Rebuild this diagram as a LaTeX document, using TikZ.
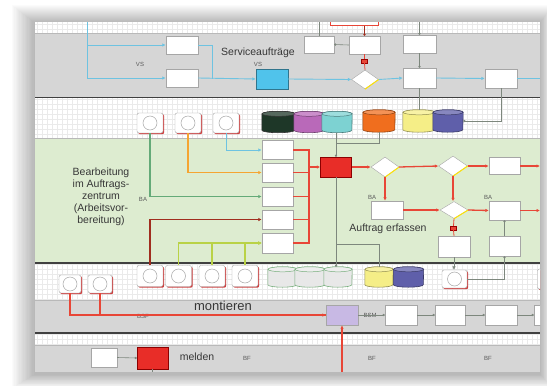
\documentclass[tikz,border=0pt]{standalone}
\usepackage{fontspec}
\setmainfont{Liberation Sans}
\usetikzlibrary{arrows.meta,shapes.geometric,shadows}
\definecolor{bandgray}{RGB}{214,214,214}
\definecolor{bandgreen}{RGB}{221,236,208}
\definecolor{gridc}{RGB}{234,234,234}
\definecolor{lineblue}{RGB}{110,195,225}
\definecolor{boxblue}{RGB}{80,195,235}
\definecolor{redl}{RGB}{232,70,55}
\definecolor{redbox}{RGB}{232,45,40}
\definecolor{lineor}{RGB}{245,165,50}
\definecolor{linegr}{RGB}{100,170,120}
\definecolor{linedr}{RGB}{160,45,30}
\definecolor{lineyg}{RGB}{185,210,70}
\definecolor{linegy}{RGB}{125,135,125}
\definecolor{txt}{RGB}{55,55,55}
\definecolor{cdkgreen}{RGB}{30,55,40}
\definecolor{cpurple}{RGB}{185,105,185}
\definecolor{cteal}{RGB}{125,210,210}
\definecolor{corange}{RGB}{240,110,30}
\definecolor{cyellow}{RGB}{245,238,135}
\definecolor{cslate}{RGB}{95,95,170}
\definecolor{clgray}{RGB}{232,232,232}
\definecolor{cgedge}{RGB}{120,175,125}
\definecolor{lavender}{RGB}{200,185,228}
\newcommand\mycyl[7]{%
  \node[inner sep=0pt, minimum width=#4pt, minimum height=#5pt] (#1) at (#2,#3) {};
  \path[fill=#6, draw=#7, line width=0.6pt]
    ([yshift=-2.5pt]#1.north west) -- ([yshift=2.5pt]#1.south west)
    arc[start angle=180, end angle=360, x radius=#4pt/2, y radius=2.5pt]
    -- ([yshift=-2.5pt]#1.north east)
    arc[start angle=0, end angle=180, x radius=#4pt/2, y radius=2.5pt] -- cycle;
  \path[fill=#6!75!white, draw=#7, line width=0.5pt]
    ([yshift=-2.5pt]#1.north) ellipse[x radius=#4pt/2, y radius=2.5pt];
}
\begin{document}
\begin{tikzpicture}[x=1pt,y=-1pt,
  pbox/.style={rectangle, draw=gray!70, fill=white, inner sep=0pt,
    minimum width=31pt, minimum height=19pt,
    drop shadow={opacity=0.25, shadow xshift=0.8pt, shadow yshift=-0.8pt}},
  dia/.style={diamond, aspect=1.4, draw=gray!70, fill=white,
    minimum width=28pt, minimum height=20pt, inner sep=0pt},
  csq/.style={rectangle, rounded corners=2pt, draw=gray!70, fill=white,
    minimum width=25pt, minimum height=20pt, inner sep=0pt,
    drop shadow={fill=red!75!black, opacity=0.75, shadow xshift=1.2pt, shadow yshift=-1.2pt},
    path picture={\draw[gray!70, line width=0.5pt] (path picture bounding box.center) circle[radius=7pt];}},
  bl/.style={draw=lineblue, line width=0.9pt},
  rd/.style={draw=redl, line width=1.3pt},
  gl/.style={draw=linegy, line width=0.6pt},
  arr/.style={-{Latex[length=3.5pt,width=3.5pt]}},
  dot/.style={-{Circle[length=2.2pt]}},
  big/.style={text=txt, font=\fontsize{10.5}{12.5}\selectfont, inner sep=0pt},
  lbl/.style={text=gray!70!black, font=\fontsize{6}{7}\selectfont, inner sep=0pt},
  tag/.style={fill=redl, draw=red!60!black, minimum width=6pt, minimum height=4pt, inner sep=0pt}]
\useasboundingbox (0,0) rectangle (547,386);
\fill[white] (0,0) rectangle (547,386);
% soft shadow around the panel
\foreach \i in {1,...,18}
  \fill[black, opacity=0.014] ({35-\i*1.3},{22-\i*1.0+1}) rectangle ({540+\i*0.7},{372+\i*0.8+2});
\begin{scope}
\clip (35,22) rectangle (540,372);
\fill[white] (35,22) rectangle (540,372);
\foreach \xx in {37,42,...,540} \draw[gridc, line width=0.3pt] (\xx,22) -- (\xx,372);
\foreach \yy in {24,29,...,372} \draw[gridc, line width=0.3pt] (35,\yy) -- (540,\yy);
% bands
\fill[bandgray] (35,33) rectangle (540,97);
\fill[bandgreen] (35,138) rectangle (540,263);
\fill[bandgray] (35,300) rectangle (540,333);
\fill[bandgray] (35,345) rectangle (540,372);
\draw[gray!55, line width=0.5pt] (35,33) -- (540,33);
\draw[gray!55, line width=0.5pt] (35,138) -- (540,138);
\draw[gray!55, line width=0.5pt] (35,300) -- (540,300);
\draw[gray!55, line width=0.5pt] (35,345) -- (540,345);
\draw[black!75, line width=1.8pt] (35,97.5) -- (540,97.5);
\draw[black!75, line width=1.8pt] (35,263) -- (540,263);
\draw[black!75, line width=1.8pt] (35,333) -- (540,333);

% ---------- band: Serviceauftraege ----------
\node[big] (tsa) at (258,53) {Serviceaufträge};
\node[lbl] (vs1) at (140,64) {VS};
\node[lbl] (vs2) at (258,64) {VS};
\node[pbox, minimum width=32pt, minimum height=18pt] (b1) at (182,45) {};
\node[pbox, minimum width=32pt, minimum height=18pt] (b2) at (182,78) {};
\node[pbox, fill=boxblue, draw=boxblue!60!black, minimum width=32pt, minimum height=20pt] (bb) at (272,79) {};
\node[dia, minimum width=27pt, minimum height=19pt] (d0) at (365,79.5) {};
\draw[yellow!85!orange, line width=1pt] (d0.south) -- (d0.east);
\node[pbox, minimum width=31pt, minimum height=18pt] (b3) at (364.5,45) {};
\node[pbox, minimum width=30pt, minimum height=17pt] (b4) at (319,44.5) {};
\node[pbox, minimum width=33pt, minimum height=18pt] (b5) at (419.5,44) {};
\node[pbox, minimum width=33pt, minimum height=20pt] (b6) at (419.5,78) {};
\node[pbox, minimum width=32pt, minimum height=19pt] (b7) at (501,78.5) {};
\node[draw=redl, fill=white, line width=1pt, minimum width=48pt, minimum height=7pt, inner sep=0pt] (rtop) at (354,21.5) {};
\node[tag] (tg1) at (364.5,61) {};
\coordinate (vtop) at (87,22);
\coordinate (j1) at (212,79);
\coordinate (gtop) at (419.5,22);
\coordinate (gtop2) at (319,22);
\coordinate (redge1) at (540,78.5);
\draw[bl,arr] (vtop) |- (b1.west);
\draw[bl,arr] (vtop) |- (b2.west);
\draw[bl] (b1.east) -| (j1);
\draw[bl,arr] (b2.east) -- (bb.west);
\draw[bl,arr] (bb.east) -- (d0.west);
\draw[bl,arr] (d0.east) -- (b6.west);
\draw[bl,arr] (b6.east) -- (b7.west);
\draw[bl] (b7.east) -- (redge1);
\draw[gl,dot] (gtop) -- (b5.north);
\draw[gl,dot] (b5.south) -- (b6.north);
\draw[gl] (gtop2) -- (b4.north);
\draw[gl,dot] (b3.west) -- (b4.east);
\draw[linedr, line width=0.8pt, dot] (rtop.south -| b3.north) -- (b3.north);
\draw[redl, line width=0.8pt] (b3.south) -- (tg1.north);
\draw[redl, line width=0.8pt] (tg1.south) -- (d0.north);

% ---------- band 3: stores ----------
\node[csq, minimum width=26pt] (s1) at (150,123) {};
\node[csq, minimum width=26pt] (s2) at (188,123) {};
\node[csq, minimum width=26pt] (s3) at (226,123) {};
\mycyl{c1}{278.5}{122}{33}{21}{cdkgreen}{black!80}
\mycyl{c2}{309}{122}{30}{21}{cpurple}{cpurple!60!black}
\mycyl{c3}{337}{122}{30}{21}{cteal}{cteal!60!black}
\mycyl{c4}{379}{121}{32}{22}{corange}{corange!60!black}
\mycyl{c5}{419}{121}{32}{22}{cyellow}{cyellow!60!black}
\mycyl{c6}{448}{121}{30}{22}{cslate}{cslate!60!black}
\draw[gl] (b6.south) -- (b6.south |- c5.north);
\draw[gl,dot] (b7.south) |- (c6.east);

% ---------- band 4: Bearbeitung ----------
\node[big, align=center, font=\fontsize{10.5}{12}\selectfont] (tbear) at (101,197)
  {Bearbeitung\\im Auftrags-\\zentrum\\(Arbeitsvor-\\bereitung)};
\node[lbl] (ba1) at (143,199) {BA};
\node[pbox] (p1) at (277.5,150) {};
\node[pbox] (p2) at (277.5,172.5) {};
\node[pbox] (p3) at (277.5,196.5) {};
\node[pbox] (p4) at (277.5,219.5) {};
\node[pbox, minimum height=20pt] (p5) at (277.5,243) {};
\node[pbox, fill=redbox, draw=red!55!black, minimum width=31pt, minimum height=20pt] (rb) at (336,167) {};
\node[dia] (d1) at (385,167) {};
\draw[yellow!85!orange, line width=1pt] (d1.south) -- (d1.east);
\node[dia, minimum width=29pt] (d2) at (453,166) {};
\draw[yellow!85!orange, line width=1pt] (d2.south) -- (d2.east);
\node[pbox, minimum height=17pt] (r1) at (504.5,166) {};
\node[pbox, minimum width=32pt, minimum height=18pt] (bB) at (387,210) {};
\node[dia, minimum height=17pt] (d3) at (454,210) {};
\draw[yellow!85!orange, line width=1pt] (d3.south) -- (d3.east);
\node[pbox] (bC) at (504.5,210.5) {};
\node[pbox, minimum width=32pt, minimum height=21pt] (bE) at (454,246.5) {};
\node[pbox, minimum height=20pt] (bF) at (504.5,246) {};
\node[tag] (tg2) at (453.5,228) {};
\node[lbl] (ba2) at (372,197) {BA};
\node[lbl] (ba3) at (488,197) {BA};
\node[big] (tae) at (388,229) {Auftrag erfassen};
\coordinate (bus) at (309,167);
\coordinate (j2) at (336,143);
\coordinate (j3) at (336,244);
\coordinate (redge2) at (540,166);
\coordinate (redge3) at (540,210.5);
\draw[lineblue, line width=0.9pt, arr] (s3.south) |- (p1.west);
\draw[lineor, line width=1.1pt, arr] (s2.south) |- (p2.west);
\draw[linegr, line width=1.1pt, arr] (s1.south) |- (p3.west);
\draw[rd] (p1.east) -| (bus);
\draw[rd] (p2.east) -| (bus);
\draw[rd] (p3.east) -| (bus);
\draw[rd] (p4.east) -| (bus);
\draw[rd] (p5.east) -| (bus);
\draw[rd,arr] (bus) -- (rb.west);
\draw[gl,dot] (c3.south -| rb.north) -- (rb.north);
\draw[gl] (c4.south) |- (j2);
\draw[rd,arr] (rb.east) -- (d1.west);
\draw[rd,arr] (d1.east) -- (d2.west);
\draw[rd,arr] (d2.east) -- (r1.west);
\draw[rd,arr] (r1.east) -- (redge2);
\draw[rd,arr] (d1.south) -- (d1.south |- bB.north);
\draw[rd,arr] (bB.east) -- (d3.west);
\draw[rd,arr] (d2.south) -- (d2.south |- d3.north);
\draw[rd,arr] (d3.east) -- (bC.west);
\draw[rd,arr] (bC.east) -- (redge3);
\draw[redl, line width=0.8pt] (d3.south) -- (tg2.north);
\draw[redl, line width=0.8pt] (tg2.south) -- (bE.north);
\draw[gl,dot] (bF.north) -- (bC.south);

% ---------- band 5: stores ----------
\node[csq, minimum width=22pt, minimum height=18pt] (L1) at (70,284) {};
\node[csq, minimum width=24pt, minimum height=18pt] (L2) at (100,284) {};
\node[csq, minimum width=26pt, minimum height=21pt] (q1) at (150,276) {};
\node[csq, minimum width=26pt, minimum height=21pt] (q2) at (178.5,276) {};
\node[csq, minimum width=26pt, minimum height=21pt] (q3) at (212,276) {};
\node[csq, minimum width=26pt, minimum height=21pt] (q4) at (245,276) {};
\mycyl{g1}{282.5}{277}{29}{20}{clgray}{cgedge}
\mycyl{g2}{310}{277}{30}{20}{clgray}{cgedge}
\mycyl{g3}{338}{277}{28}{20}{clgray}{cgedge}
\mycyl{y5}{379}{277}{28}{20}{cyellow}{cyellow!60!black}
\mycyl{s6}{408.5}{277}{30}{20}{cslate}{cslate!60!black}
\node[csq, minimum width=25pt, minimum height=18pt] (ce) at (454.5,279) {};
\node[csq, minimum width=25pt, minimum height=20pt] (ce2) at (550,279) {};
\draw[linedr, line width=1.1pt, arr] (q1.north) |- (p4.west);
\draw[lineyg, line width=1.1pt, arr] (q2.north) |- (p5.west);
\draw[lineyg, line width=1.1pt, arr] (q3.north) |- (p5.west);
\draw[lineyg, line width=1.1pt, arr] (q4.north) |- (p5.west);
\draw[gl,dot] (rb.south) -- (rb.south |- g3.north);
\draw[gl] (j3) -| (y5.north);
\draw[gl,arr] (bE.south) -- (bE.south |- ce.north);
\draw[gl,dot] (ce.east) -| (bF.south);

% ---------- band 6: montieren ----------
\node[big, font=\fontsize{13}{15}\selectfont] (tmon) at (223,306) {montieren};
\node[pbox, fill=lavender, draw=gray!70, minimum width=32pt, minimum height=20pt] (lav) at (342,315) {};
\node[pbox, minimum width=32pt, minimum height=20pt] (m1) at (401,315) {};
\node[pbox, minimum width=30pt, minimum height=20pt] (m2) at (450,315) {};
\node[pbox, minimum width=32pt, minimum height=20pt] (m3) at (501,315) {};
\node[pbox, minimum width=32pt, minimum height=20pt] (m4) at (550,315) {};
\node[lbl] (bsf) at (143,316) {BSF};
\node[lbl] (bsm) at (370,315) {BSM};
\coordinate (bot) at (342,372);
\draw[rd,arr] (L1.south) |- (lav.west);
\draw[rd] (L2.south) |- (lav.west);
\draw[rd,arr] (bot) -- (lav.south);
\draw[gl,dot] (lav.east) -- (m1.west);
\draw[gl,dot] (m1.east) -- (m2.west);
\draw[gl,dot] (m2.east) -- (m3.west);
\draw[gl,dot] (m3.east) -- (m4.west);

% ---------- band 8: melden ----------
\node[pbox, minimum width=26pt, minimum height=19pt] (w1) at (104,357.5) {};
\node[pbox, fill=redbox, draw=red!55!black, minimum width=31pt, minimum height=22pt] (rm) at (152.5,358) {};
\node[big] (tmel) at (197,357) {melden};
\node[lbl] (bf1) at (247,358) {BF};
\node[lbl] (bf2) at (372,358) {BF};
\node[lbl] (bf3) at (488,358) {BF};
\coordinate (bot2) at (152.5,372);
\draw[gl,dot] (w1.east) -- (rm.west);
\draw[gl] (rm.south) -- (bot2);
\end{scope}
\end{tikzpicture}
\end{document}
